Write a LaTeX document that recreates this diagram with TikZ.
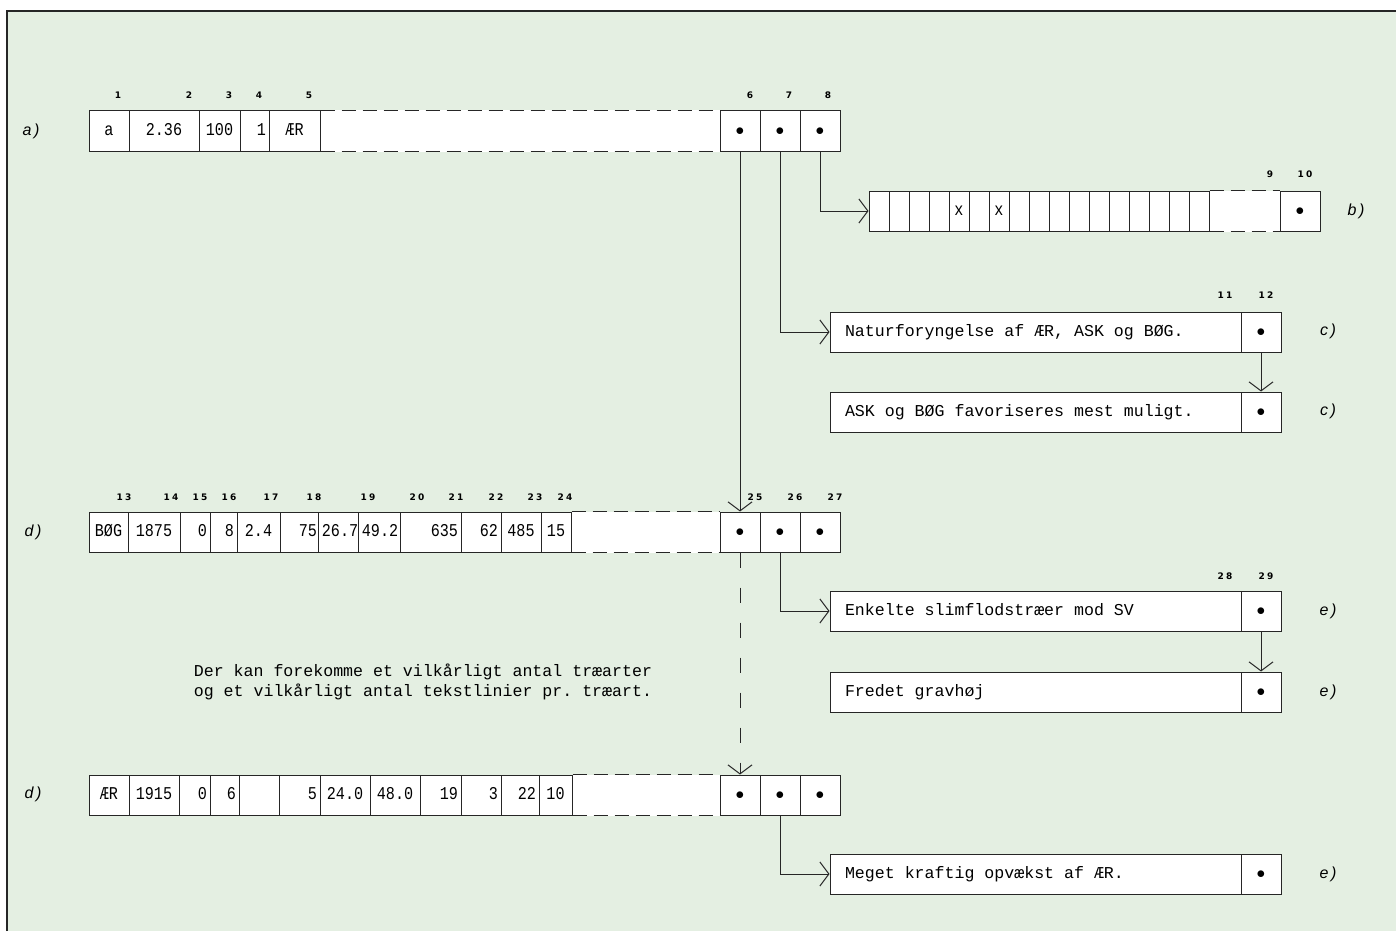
\documentclass[tikz,border=0pt]{standalone}
\usepackage{fontspec}
\setmonofont{Liberation Mono}
\newfontfamily\cellfont{Liberation Mono}[FakeStretch=0.84]
\newfontfamily\numfont{DejaVu Sans}[LetterSpace=25]
\newfontfamily\tagfont{Liberation Sans}
\newcommand{\recfont}{\ttfamily\fontsize{16.6}{20}\selectfont}
\newcommand{\fieldfont}{\cellfont\fontsize{18}{20}\selectfont}
\newcommand{\linetext}[1]{\makebox[381pt][l]{#1}}
\usetikzlibrary{arrows.meta}
\definecolor{paper}{HTML}{E4EFE2}
\definecolor{ink}{HTML}{262626}

\tikzset{
  cell/.style={draw=ink, fill=white, minimum height=40pt, inner xsep=3pt, inner ysep=0pt,
    text height=12pt, text depth=3pt, font=\fieldfont},
  rcell/.style={cell, align=right, text width=#1},
  txt/.style={cell, minimum width=411pt, inner xsep=15pt, font=\recfont},
  ptr/.style={draw=ink, -{Straight Barb[length=9pt,width=24pt]}},
  gap/.style={draw=ink, dash pattern=on 14pt off 7pt},
  num/.style={font=\numfont\bfseries\fontsize{9}{10}\selectfont},
  tag/.style={font=\tagfont\itshape\fontsize{16}{18}\selectfont},
}

\begin{document}
\begin{tikzpicture}[x=1pt,y=-1pt,line width=1pt]
  \useasboundingbox (0,0) rectangle (1396,931);
  \fill[paper] (7,11) rectangle (1396,931);
  \draw[ink, line width=1.3pt] (7,931) -- (7,11) -- (1396,11);

  % record a)
  \node[cell, minimum width=40pt] (a1) at (109,131) {a};
  \node[cell, minimum width=70pt] (a2) at (164,131) {2.36};
  \node[cell, minimum width=41pt] (a3) at (219.5,131) {100};
  \node[rcell=23pt] (a4) at (254.5,131) {1};
  \node[cell, minimum width=51pt] (a5) at (294.5,131) {ÆR};
  \node[cell, minimum width=40pt] (a6) at (740,131) {$\bullet$};
  \node[cell, minimum width=40pt] (a7) at (780,131) {$\bullet$};
  \node[cell, minimum width=40pt] (a8) at (820,131) {$\bullet$};
  \fill[white] (a5.north east) rectangle (a6.south west);
  \draw[gap] (a5.north east) -- (a6.north west) (a5.south east) -- (a6.south west);
  \foreach \t/\x in {1/118,2/189,3/229,4/259,5/309,6/750,7/789,8/828}
    \node[num] (n\t) at (\x,95) {\t};
  \node[tag] (la) at (31,131) {a\,)};

  % record b)
  \foreach \k in {1,...,17}
    \node[cell, minimum width=20pt] (b\k) at ({859+20*\k},211) {};
  \node[font=\fieldfont] (bx5) at (b5) {x};
  \node[font=\fieldfont] (bx7) at (b7) {x};
  \node[cell, minimum width=40pt] (bp) at (1300,211) {$\bullet$};
  \fill[white] (b17.north east) rectangle (bp.south west);
  \draw[gap] (b17.north east) -- (bp.north west) (b17.south east) -- (bp.south west);
  \foreach \t/\x in {9/1270,10/1305}
    \node[num] (n\t) at (\x,174) {\t};
  \node[tag] (lb) at (1356,211) {b\,)};

  % text lines c)
  \node[txt] (c11) at (1035.5,332) {\linetext{Naturforyngelse af ÆR, ASK og BØG.}};
  \node[cell, minimum width=40pt] (c12) at (1261,332) {$\bullet$};
  \node[txt] (cc11) at (1035.5,412) {\linetext{ASK og BØG favoriseres mest muligt.}};
  \node[cell, minimum width=40pt] (cc12) at (1261,412) {$\bullet$};
  \foreach \t/\x in {11/1225,12/1266}
    \node[num] (n\t) at (\x,295) {\t};
  \node[tag] (lc1) at (1328,331) {c\,)};
  \node[tag] (lc2) at (1328,411) {c\,)};

  % first record d)
  \node[cell, minimum width=39pt] (d13) at (108.5,532) {BØG};
  \node[cell, minimum width=52pt] (d14) at (154,532) {1875};
  \node[rcell=24pt] (d15) at (195,532) {0};
  \node[rcell=21pt] (d16) at (223.5,532) {8};
  \node[cell, minimum width=43pt] (d17) at (258.5,532) {2.4};
  \node[rcell=34pt] (d18) at (300,532) {75};
  \node[cell, minimum width=40pt] (d19) at (340,532) {26.7};
  \node[cell, minimum width=40pt] (d20) at (380,532) {49.2};
  \node[rcell=55pt] (d21) at (430.5,532) {635};
  \node[rcell=34pt] (d22) at (481,532) {62};
  \node[cell, minimum width=40pt] (d23) at (521,532) {485};
  \node[cell, minimum width=30pt] (d24) at (556,532) {15};
  \node[cell, minimum width=40pt] (d25) at (740,532) {$\bullet$};
  \node[cell, minimum width=40pt] (d26) at (780,532) {$\bullet$};
  \node[cell, minimum width=40pt] (d27) at (820,532) {$\bullet$};
  \fill[white] (d24.north east) rectangle (d25.south west);
  \draw[gap] (d24.north east) -- (d25.north west) (d24.south east) -- (d25.south west);
  \foreach \t/\x in {13/124,14/171,15/200,16/229,17/271,18/314,19/368,20/417,21/456,22/496,23/535,24/565,25/755,26/795,27/835}
    \node[num] (n\t) at (\x,497) {\t};
  \node[tag] (ld1) at (33,532) {d\,)};

  % text lines e)
  \node[txt] (e28) at (1035.5,611) {\linetext{Enkelte slimflodstræer mod SV}};
  \node[cell, minimum width=40pt] (e29) at (1261,611) {$\bullet$};
  \node[txt] (ee28) at (1035.5,692) {\linetext{Fredet gravhøj}};
  \node[cell, minimum width=40pt] (ee29) at (1261,692) {$\bullet$};
  \foreach \t/\x in {28/1225,29/1266}
    \node[num] (n\t) at (\x,576) {\t};
  \node[tag] (le1) at (1328,611) {e\,)};
  \node[tag] (le2) at (1328,692) {e\,)};

  \node[font=\recfont, align=left, anchor=west] (note) at (190,682)
    {Der kan forekomme et vilkårligt antal træarter\\og et vilkårligt antal tekstlinier pr. træart.};

  % second record d)
  \node[cell, minimum width=40pt] (dd13) at (109,795) {ÆR};
  \node[cell, minimum width=50pt] (dd14) at (154,795) {1915};
  \node[rcell=25pt] (dd15) at (194.5,795) {0};
  \node[rcell=23pt] (dd16) at (224.5,795) {6};
  \node[cell, minimum width=40pt] (dd17) at (259,795) {};
  \node[rcell=35pt] (dd18) at (299.5,795) {5};
  \node[cell, minimum width=50pt] (dd19) at (345,795) {24.0};
  \node[cell, minimum width=50pt] (dd20) at (395,795) {48.0};
  \node[rcell=35pt] (dd21) at (440.5,795) {19};
  \node[rcell=34pt] (dd22) at (481,795) {3};
  \node[rcell=32pt] (dd23) at (520,795) {22};
  \node[cell, minimum width=33pt] (dd24) at (555.5,795) {10};
  \node[cell, minimum width=40pt] (dd25) at (740,795) {$\bullet$};
  \node[cell, minimum width=40pt] (dd26) at (780,795) {$\bullet$};
  \node[cell, minimum width=40pt] (dd27) at (820,795) {$\bullet$};
  \fill[white] (dd24.north east) rectangle (dd25.south west);
  \draw[gap] (dd24.north east) -- (dd25.north west) (dd24.south east) -- (dd25.south west);
  \node[tag] (ld2) at (33,794) {d\,)};

  \node[txt] (eee28) at (1035.5,874) {\linetext{Meget kraftig opvækst af ÆR.}};
  \node[cell, minimum width=40pt] (eee29) at (1261,874) {$\bullet$};
  \node[tag] (le3) at (1328,874) {e\,)};

  % pointers
  \draw[ptr] (a8.south) |- (b1.west);
  \draw[ptr] (a7.south) |- (c11.west);
  \draw[ptr] (c12.south) -- (cc12.north);
  \draw[ptr] (a6.south) -- (d25.north);
  \draw[ptr, dash pattern=on 15pt off 20pt] (d25.south) -- (dd25.north);
  \draw[ptr] (d26.south) |- (e28.west);
  \draw[ptr] (e29.south) -- (ee29.north);
  \draw[ptr] (dd26.south) |- (eee28.west);
\end{tikzpicture}
\end{document}
